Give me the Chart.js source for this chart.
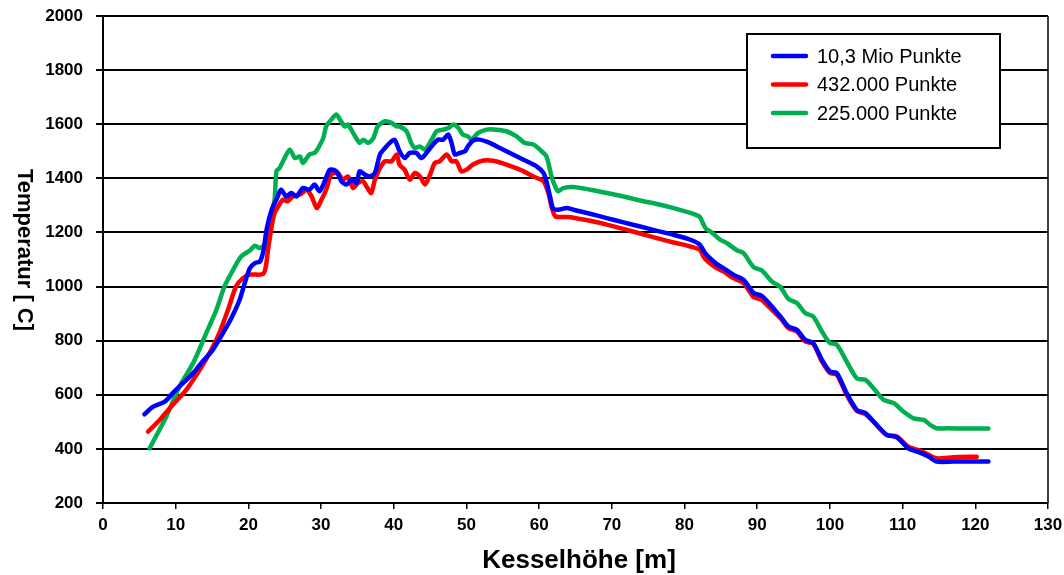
<!DOCTYPE html>
<html>
<head>
<meta charset="utf-8">
<script src="https://cdn.jsdelivr.net/npm/chart.js@4.4.1/dist/chart.umd.min.js"></script>
<style>
html,body{margin:0;padding:0;background:#fff;}
#wrap{width:1064px;height:575px;position:relative;}
</style>
</head>
<body>
<div id="wrap"><canvas id="c" width="1064" height="575"></canvas></div>
<script>
// ---- data ----
const xTicks = [0,10,20,30,40,50,60,70,80,90,100,110,120,130];
const yTicks = [200,400,600,800,1000,1200,1400,1600,1800,2000];
const seriesNames = ["10,3 Mio Punkte", "432.000 Punkte", "225.000 Punkte"];

const blueX = [5.7,6.9,8.5,9.6,11.0,12.4,13.7,15.1,16.5,17.65,18.8,19.5,20.2,20.9,21.6,22.1,22.5,23.2,23.85,24.5,25.2,25.9,26.6,27.5,28.4,29.1,29.8,30.5,31.2,32.1,32.8,33.5,34.2,34.9,35.3,36.0,36.7,37.4,38.1,38.8,39.45,40.1,40.8,41.5,42.2,43.1,43.8,44.5,45.4,46.1,46.8,47.5,47.95,48.4,49.1,49.8,50.2,50.9,51.8,53.2,54.6,56.4,58.3,59.65,60.6,61.0,61.5,61.9,62.6,63.8,64.7,67.0,69.3,71.6,73.9,76.2,78.5,80.8,82.1,82.8,83.5,84.4,85.35,86.7,88.1,89.5,90.6,91.8,93.2,94.3,95.45,96.6,97.7,98.9,100.0,100.95,102.3,103.7,104.9,106.2,107.8,109.2,110.8,112.4,113.6,114.7,117.0,121.8];
const blueY = [528,556,575,606,643,680,723,766,828,883,951,1013,1068,1087,1093,1136,1210,1284,1321,1358,1333,1346,1333,1364,1358,1377,1352,1389,1432,1426,1389,1377,1395,1383,1426,1414,1407,1420,1488,1512,1531,1543,1500,1475,1494,1494,1475,1494,1525,1543,1543,1562,1531,1488,1494,1500,1518,1540,1543,1531,1512,1488,1463,1444,1420,1389,1333,1290,1284,1290,1284,1269,1253,1237,1222,1206,1191,1173,1155,1125,1105,1084,1068,1044,1025,976,966,933,889,852,840,803,791,729,686,680,606,544,532,495,452,443,402,386,371,353,353,353];

const redX = [6.2,7.8,9.6,11.45,13.3,14.9,16.0,17.2,18.3,19.25,20.2,22.0,22.4,22.7,23.2,23.6,24.1,24.75,25.4,26.1,27.1,28.0,28.7,29.4,30.05,30.7,31.4,32.3,33.0,33.7,34.4,35.1,35.8,36.25,36.9,37.4,38.1,38.8,39.7,40.4,40.8,41.5,42.2,42.9,43.6,44.3,45.0,45.65,46.3,47.3,47.95,48.6,49.3,50.0,50.9,52.3,53.7,55.5,57.35,59.2,60.6,61.25,61.7,62.2,62.9,64.0,67.0,69.3,71.6,73.9,76.2,78.5,80.8,82.1,82.6,83.1,84.2,85.35,86.7,88.1,89.5,90.6,91.8,93.2,94.3,95.45,96.6,97.7,98.9,100.0,100.95,102.3,103.7,104.9,106.2,107.8,109.2,110.8,112.4,113.6,114.7,117.0,120.2];
const redY = [464,507,563,618,692,766,828,914,1000,1031,1044,1046,1074,1136,1222,1272,1296,1321,1315,1333,1340,1358,1333,1290,1321,1358,1414,1420,1395,1407,1364,1383,1389,1370,1346,1395,1438,1463,1463,1488,1450,1432,1395,1420,1407,1377,1414,1457,1463,1488,1463,1463,1426,1432,1451,1466,1465,1451,1432,1407,1389,1346,1296,1260,1257,1257,1243,1229,1213,1196,1179,1163,1148,1136,1111,1095,1072,1056,1031,1013,961,951,920,883,846,834,797,788,723,680,674,600,540,528,495,452,446,408,393,378,365,369,371];

const greenX = [6.4,8.7,10.5,12.4,14.2,15.6,16.7,17.9,19.0,20.2,20.9,21.55,22.2,22.7,23.6,23.85,24.3,24.75,25.7,26.4,27.1,27.5,28.4,29.1,29.6,30.3,30.7,31.4,32.1,32.6,33.25,33.7,34.4,35.3,35.8,36.5,37.2,37.8,38.8,39.7,40.4,40.8,41.75,42.4,42.9,43.6,44.3,45.2,45.9,46.8,47.5,48.2,48.9,49.5,50.2,50.7,51.6,52.8,54.1,55.5,56.9,58.0,59.2,60.1,61.0,61.7,62.2,62.6,63.3,64.7,67.0,69.3,71.6,73.9,76.2,78.5,80.8,82.1,82.6,83.0,83.75,84.9,85.8,87.2,88.1,89.5,90.6,92.0,93.2,94.3,95.45,96.6,97.7,98.9,100.0,100.95,102.3,103.7,104.9,106.0,107.4,108.8,110.1,111.5,112.9,113.8,114.7,116.1,118.9,121.8];
const greenY = [402,519,630,717,828,914,1000,1062,1111,1133,1151,1142,1155,1210,1321,1426,1438,1463,1506,1475,1481,1457,1488,1494,1512,1549,1592,1617,1636,1617,1592,1599,1568,1531,1543,1531,1549,1592,1611,1605,1592,1592,1574,1531,1512,1518,1506,1543,1574,1580,1586,1599,1586,1562,1555,1543,1568,1580,1580,1574,1555,1531,1525,1506,1481,1407,1370,1352,1364,1368,1358,1346,1333,1318,1305,1290,1272,1257,1230,1212,1200,1173,1161,1134,1124,1072,1060,1019,998,954,939,902,889,834,791,785,723,661,655,624,581,569,538,513,507,489,476,476,475,475];

const colors = ["#0000FF", "#FF0000", "#00B050"];
// ---- build ----
function pts(xs, ys){ return xs.map((x,i)=>({x:x, y:ys[i]})); }
const FONT = "'Liberation Sans', Arial, Helvetica, sans-serif";

const overlay = {
  id: 'overlay',
  afterDraw(chart){
    const ctx = chart.ctx, a = chart.chartArea;
    ctx.save();
    // right border
    ctx.strokeStyle = '#000'; ctx.lineWidth = 1.5;
    ctx.beginPath(); ctx.moveTo(a.right, a.top); ctx.lineTo(a.right, a.bottom); ctx.stroke();
    // legend box
    ctx.fillStyle = '#fff';
    ctx.fillRect(747, 34, 253, 114);
    ctx.lineWidth = 2; ctx.strokeStyle = '#000';
    ctx.strokeRect(747, 34, 253, 114);
    const rows = [56, 84.5, 113];
    ctx.font = "20px " + FONT;
    ctx.textBaseline = 'middle'; ctx.textAlign = 'left';
    for (let i=0;i<3;i++){
      ctx.strokeStyle = colors[i]; ctx.lineWidth = 4.5; ctx.lineCap = 'round';
      ctx.beginPath(); ctx.moveTo(773, rows[i]); ctx.lineTo(806, rows[i]); ctx.stroke();
      ctx.fillStyle = '#000';
      ctx.fillText(seriesNames[i], 817, rows[i]+1);
    }
    // axis titles
    ctx.fillStyle = '#000';
    ctx.font = "bold 26px " + FONT;
    ctx.textAlign = 'center'; ctx.textBaseline = 'middle';
    ctx.fillText("Kesselhöhe [m]", 579, 561);
    ctx.save();
    ctx.translate(24, 250);
    ctx.rotate(Math.PI/2);
    ctx.font = "bold 22px " + FONT;
    ctx.fillText("Temperatur [ C]", 0, 0);
    ctx.restore();
    ctx.restore();
  }
};

new Chart(document.getElementById('c'), {
  type: 'scatter',
  data: {
    datasets: [
      {label: seriesNames[0], data: pts(blueX, blueY), borderColor: colors[0]},
      {label: seriesNames[1], data: pts(redX, redY), borderColor: colors[1]},
      {label: seriesNames[2], data: pts(greenX, greenY), borderColor: colors[2]}
    ].map(d => Object.assign(d, {showLine: true, pointRadius: 0, borderWidth: 4.5, tension: 0.25, fill: false, borderCapStyle: 'round', borderJoinStyle: 'round'}))
  },
  options: {
    responsive: false,
    animation: false,
    devicePixelRatio: 1,
    layout: {padding: {top: 16, right: 16, left: 0, bottom: 0}},
    plugins: {legend: {display: false}, tooltip: {enabled: false}},
    scales: {
      x: {
        type: 'linear', min: 0, max: 130,
        afterBuildTicks: s => { s.ticks = xTicks.map(v => ({value: v})); },
        afterFit: s => { s.height = 72; s.paddingLeft = 0; s.paddingRight = 0; },
        ticks: {color: '#000', font: {family: FONT, size: 17, weight: 'bold'}, padding: 6, maxRotation: 0, callback: v => String(v)},
        grid: {drawOnChartArea: false, drawTicks: true, tickLength: 6, color: '#000', lineWidth: 1.5},
        border: {color: '#000', width: 2}
      },
      y: {
        min: 200, max: 2000,
        afterBuildTicks: s => { s.ticks = yTicks.map(v => ({value: v})); },
        afterFit: s => { s.width = 103; s.paddingTop = 0; s.paddingBottom = 0; },
        ticks: {color: '#000', font: {family: FONT, size: 17, weight: 'bold'}, padding: 13, callback: v => String(v)},
        grid: {color: '#000', lineWidth: 2, tickLength: 7},
        border: {color: '#000', width: 2}
      }
    }
  },
  plugins: [overlay]
});
</script>
</body>
</html>
